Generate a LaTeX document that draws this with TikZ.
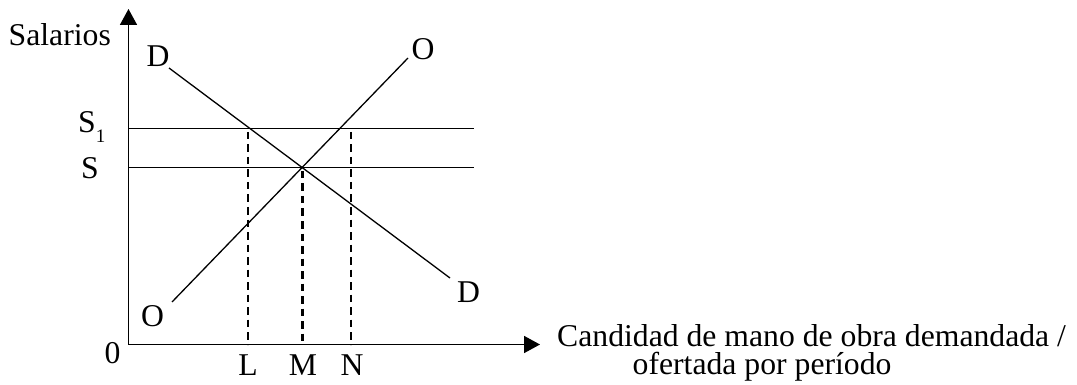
\documentclass[tikz,border=0pt]{standalone}
\usepackage{fontspec}
\setmainfont{Liberation Serif}
\usetikzlibrary{arrows.meta}
\begin{document}
\begin{tikzpicture}[x=1pt,y=-1pt,
  lbl/.style={anchor=base,inner sep=0pt,font=\fontsize{31.7}{34}\selectfont},
  lblw/.style={anchor=base west,inner sep=0pt,font=\fontsize{31.7}{34}\selectfont},
  axis/.style={line width=1.7pt,-{Triangle[length=16pt,width=17pt]}},
  curve/.style={line width=1.3pt},
  level/.style={line width=1.3pt},
  guide/.style={line width=2.4pt,dash pattern=on 7.5pt off 5pt}]
\useasboundingbox (0,0) rectangle (1077,385);
% reference points
\coordinate (O0) at (128.5,344.5);
\coordinate (Ytop) at (128.5,9);
\coordinate (Xend) at (540,344.5);
\coordinate (S1a) at (128.5,128.3);
\coordinate (S1b) at (474,128.3);
\coordinate (Sa) at (128.5,167.5);
\coordinate (Sb) at (474,167.5);
\coordinate (Dtop) at (169,68);
\coordinate (Dbot) at (450,278);
\coordinate (Obot) at (172,302);
\coordinate (Otop) at (408,58);
\coordinate (Ltop) at (248,132);
\coordinate (Lbot) at (248,344.5);
\coordinate (Mtop) at (302.5,171);
\coordinate (Mbot) at (302.5,344.5);
\coordinate (Ntop) at (351,132);
\coordinate (Nbot) at (351,344.5);
% axes
\draw[axis] (O0) -- (Ytop);
\draw[axis] (O0) -- (Xend);
% wage levels
\draw[level] (S1a) -- (S1b);
\draw[level] (Sa) -- (Sb);
% demand and supply
\draw[curve] (Dtop) -- (Dbot);
\draw[curve] (Obot) -- (Otop);
% guides
\draw[guide] (Ltop) -- (Lbot);
\draw[guide] (Mtop) -- (Mbot);
\draw[guide] (Ntop) -- (Nbot);
% labels
\node[lblw] (sal) at (8.5,46) {Salarios};
\node[lbl] (dtl) at (158,67) {D};
\node[lbl] (otl) at (423,59.5) {O};
\node[lblw] (s1l) at (78,133) {S\raisebox{-10pt}{\fontsize{19}{19}\selectfont 1}};
\node[lbl] (sl) at (90,178.5) {S};
\node[lbl] (zl) at (112.5,363) {0};
\node[lbl] (obl) at (152.5,326) {O};
\node[lbl] (dbl) at (468.5,302) {D};
\node[lbl] (ll) at (248,375) {L};
\node[lbl] (ml) at (303,375) {M};
\node[lbl] (nl) at (352,375) {N};
\node[lblw] (xl1) at (557,346) {Candidad de mano de obra demandada /};
\node[lblw] (xl2) at (632.5,374) {ofertada por período};
\end{tikzpicture}
\end{document}
